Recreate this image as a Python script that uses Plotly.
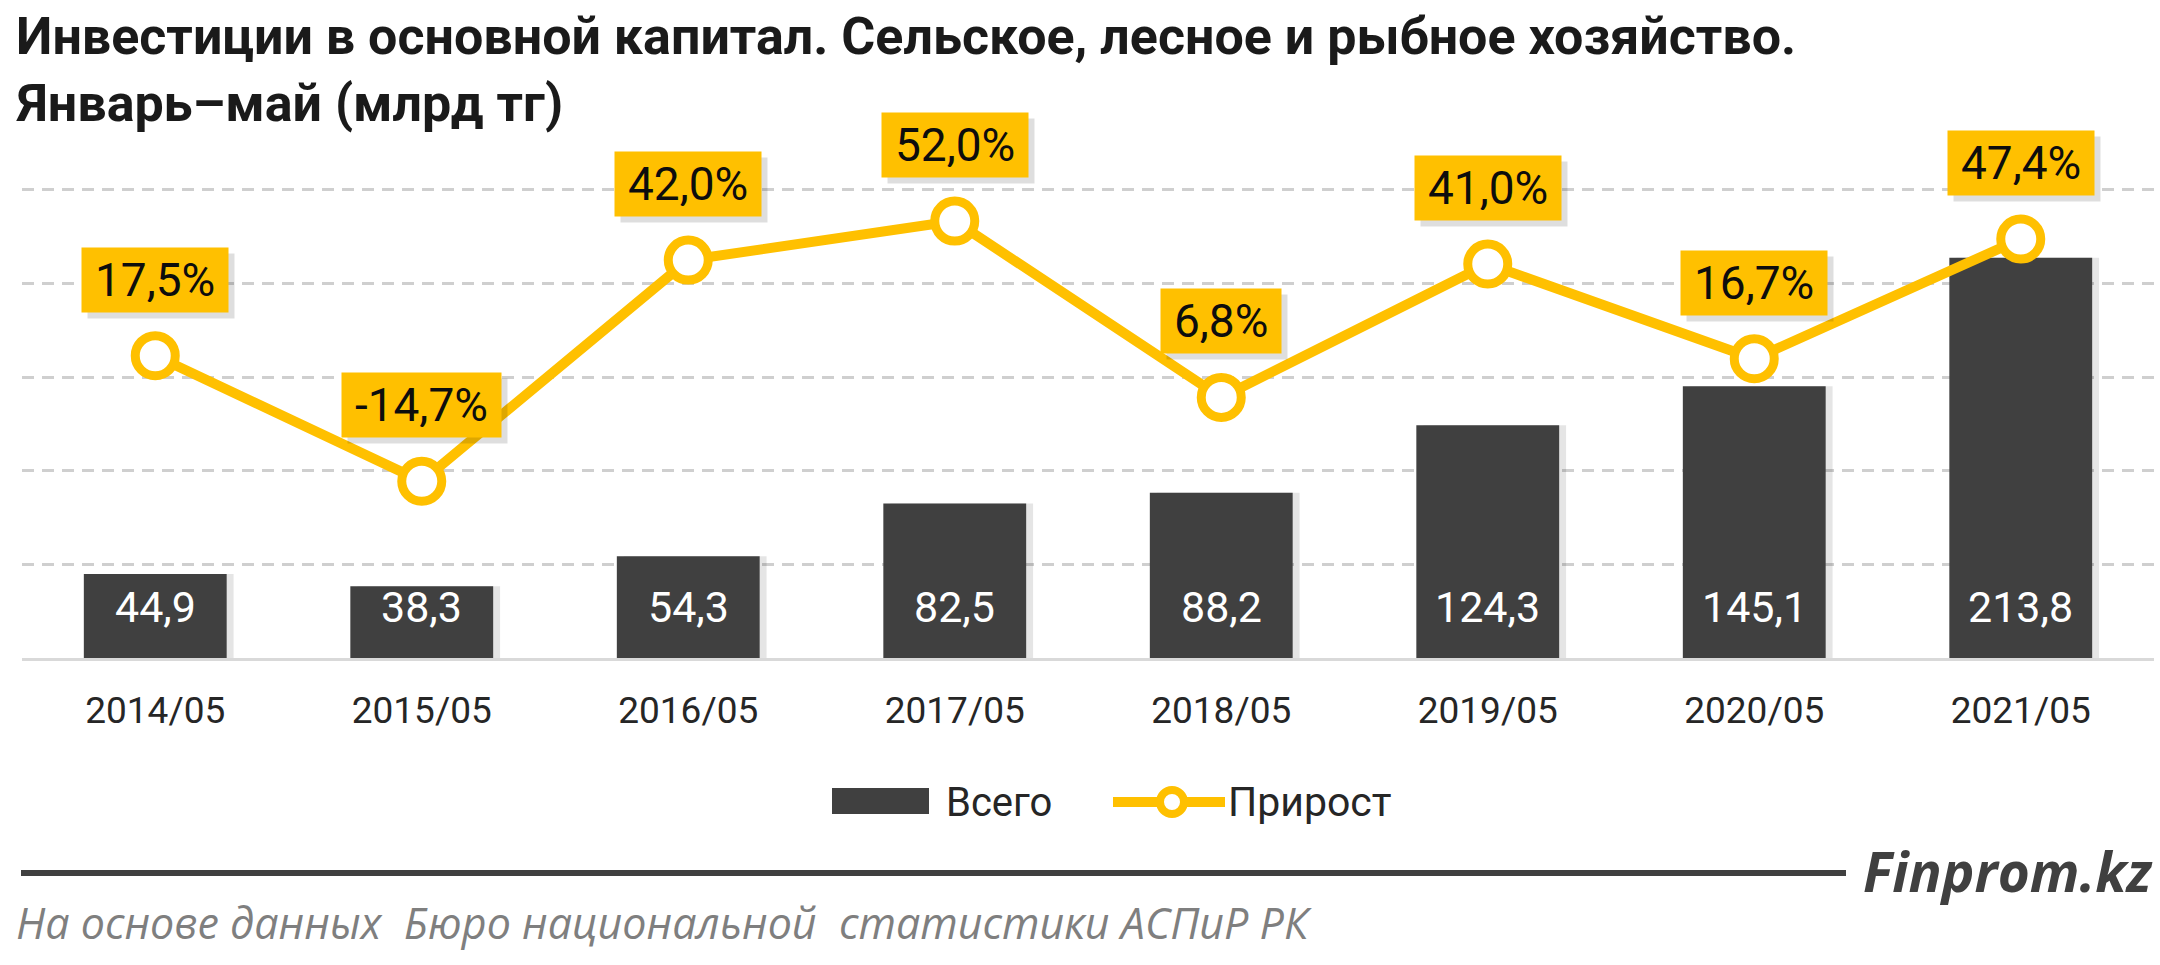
import plotly.graph_objects as go

# ---------------- data ----------------
categories = ["2014/05", "2015/05", "2016/05", "2017/05",
              "2018/05", "2019/05", "2020/05", "2021/05"]
total = [44.9, 38.3, 54.3, 82.5, 88.2, 124.3, 145.1, 213.8]       # млрд тг
growth = [17.5, -14.7, 42.0, 52.0, 6.8, 41.0, 16.7, 47.4]         # %
series_names = ["Всего", "Прирост"]
title_lines = ["Инвестиции в основной капитал. Сельское, лесное и рыбное хозяйство.",
               "Январь–май (млрд тг)"]
source_text = "На основе данных  Бюро национальной  статистики АСПиР РК"
brand_text = "Finprom.kz"

total_labels = [f"{v:.1f}".replace(".", ",") for v in total]
growth_labels = [f"{v:.1f}%".replace(".", ",") for v in growth]

# ---------------- geometry (pixels) ----------------
W, H = 2160, 965
PL, PR, PT, PB = 22, 2154, 188, 658
Y1_MAX = 251
Y2_RANGE = [-60, -60 + 120 * Y1_MAX / 250]


def px(x):
    return (x - PL) / (PR - PL)


def py(y):
    return (PB - y) / (PB - PT)


FONT = "Roboto, 'Open Sans', sans-serif"
YELLOW = "#FFC000"
BAR = "#404040"
BAR_W = 0.536

# approximate Roboto glyph widths (em) for sizing the label boxes
GLYPH_W = {",": 0.1963, "%": 0.7324, "-": 0.2759}
BOX_FONT = 46
BOX_PAD = 10


def text_px(s, size):
    return sum(GLYPH_W.get(ch, 0.5615) for ch in s) * size


fig = go.Figure()

# soft bar shadow
fig.add_trace(go.Bar(
    x=categories, y=total, yaxis="y", showlegend=False, hoverinfo="skip",
    width=BAR_W, offset=-BAR_W / 2 + 0.026,
    marker=dict(color="rgba(0,0,0,0.10)", line_width=0),
))
fig.add_trace(go.Bar(
    x=categories, y=total, yaxis="y", name=series_names[0],
    width=BAR_W, offset=-BAR_W / 2,
    marker=dict(color=BAR, line_width=0),
))
fig.add_trace(go.Scatter(
    x=categories, y=growth, yaxis="y2", name=series_names[1],
    mode="lines+markers",
    line=dict(color=YELLOW, width=10),
    marker=dict(size=40, color="white", line=dict(color=YELLOW, width=9)),
))

annotations = []

# bar value labels
for c, t in zip(categories, total_labels):
    annotations.append(dict(
        x=c, y=0, xref="x", yref="y", yanchor="middle", yshift=51,
        text=t, showarrow=False,
        font=dict(family=FONT, size=43, color="white"),
    ))

# growth label boxes (shadow + box)
for c, g, t in zip(categories, growth, growth_labels):
    bw = text_px(t, BOX_FONT) + 6
    annotations.append(dict(
        x=c, y=g, xref="x", yref="y2", yanchor="middle",
        xshift=6, yshift=70, text="&nbsp;", showarrow=False,
        bgcolor="rgba(0,0,0,0.13)", borderpad=BOX_PAD, height=44, width=bw,
        font=dict(family=FONT, size=BOX_FONT, color="rgba(0,0,0,0)"),
    ))
    annotations.append(dict(
        x=c, y=g, xref="x", yref="y2", yanchor="middle",
        yshift=76, text=t, showarrow=False,
        bgcolor=YELLOW, borderpad=BOX_PAD, height=44, width=bw,
        font=dict(family=FONT, size=BOX_FONT, color="#0d0d0d"),
    ))

# title
annotations.append(dict(
    x=px(14), y=py(36), xref="paper", yref="paper", xanchor="left", yanchor="middle",
    text=f"<b>{title_lines[0]}</b>", showarrow=False,
    font=dict(family=FONT, size=52, color="#1a1a1a"),
))
annotations.append(dict(
    x=px(14), y=py(104), xref="paper", yref="paper", xanchor="left", yanchor="middle",
    text=f"<b>{title_lines[1]}</b>", showarrow=False,
    font=dict(family=FONT, size=52, color="#1a1a1a"),
))

# legend texts
annotations.append(dict(
    x=px(944), y=py(802), xref="paper", yref="paper", xanchor="left", yanchor="middle",
    text=series_names[0], showarrow=False,
    font=dict(family=FONT, size=40, color="#262626"),
))
annotations.append(dict(
    x=px(1226), y=py(802), xref="paper", yref="paper", xanchor="left", yanchor="middle",
    text=series_names[1], showarrow=False,
    font=dict(family=FONT, size=41, color="#262626"),
))

# footer
annotations.append(dict(
    x=px(2154), y=py(870), xref="paper", yref="paper", xanchor="right", yanchor="middle",
    text=f"<b><i>{brand_text}</i></b>", showarrow=False,
    font=dict(family="'Open Sans', Roboto, sans-serif", size=55, color="#404040"),
))
annotations.append(dict(
    x=px(14), y=py(922), xref="paper", yref="paper", xanchor="left", yanchor="middle",
    text=f"<i>{source_text}</i>", showarrow=False,
    font=dict(family="'Open Sans', sans-serif", size=43, color="#7f7f7f"),
))

shapes = [
    # legend bar swatch
    dict(type="rect", xref="paper", yref="paper",
         x0=px(832), x1=px(929), y0=py(814), y1=py(788),
         fillcolor=BAR, line_width=0),
    # legend line swatch
    dict(type="line", xref="paper", yref="paper",
         x0=px(1113), x1=px(1225), y0=py(802), y1=py(802),
         line=dict(color=YELLOW, width=10)),
    dict(type="circle", xref="paper", yref="paper",
         x0=px(1172 - 12), x1=px(1172 + 12), y0=py(802 + 12), y1=py(802 - 12),
         fillcolor="white", line=dict(color=YELLOW, width=8)),
    # footer rule
    dict(type="line", xref="paper", yref="paper",
         x0=px(21), x1=px(1846), y0=py(873), y1=py(873),
         line=dict(color="#404040", width=6)),
]

fig.update_layout(
    width=W, height=H,
    margin=dict(l=PL, r=W - PR, t=PT, b=H - PB, pad=0),
    paper_bgcolor="white", plot_bgcolor="white",
    showlegend=False, barmode="overlay",
    font=dict(family=FONT),
    xaxis=dict(
        type="category", range=[-0.5, len(categories) - 0.5],
        showline=True, linecolor="#d9d9d9", linewidth=3,
        ticks="", showgrid=False, zeroline=False,
        tickfont=dict(family=FONT, size=37, color="#262626"),
        ticklabelstandoff=18,
    ),
    yaxis=dict(
        range=[0, Y1_MAX], dtick=50, showticklabels=False,
        showgrid=True, gridcolor="#cfcfcf", gridwidth=2.5, griddash="12px,8px",
        zeroline=False, showline=False,
    ),
    yaxis2=dict(
        overlaying="y", range=Y2_RANGE, visible=False, showgrid=False, zeroline=False,
    ),
    annotations=annotations,
    shapes=shapes,
)

fig.write_html("out.html")
